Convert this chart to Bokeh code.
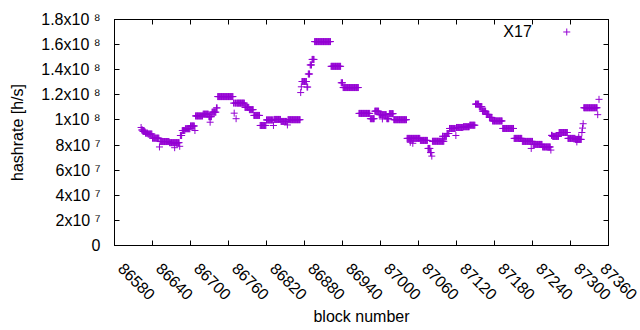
import math
from bokeh.plotting import figure
from bokeh.models import Range1d, FixedTicker, LinearAxis, Label, CustomJSTickFormatter
from bokeh.embed import file_html
from bokeh.resources import INLINE

# ---- data -------------------------------------------------------------
X_START, X_END = 86580, 87360
Y_START, Y_END = 0, 1.8e8
x_ticks = list(range(86580, 87361, 60))
y_ticks = [0, 2e7, 4e7, 6e7, 8e7, 1e8, 1.2e8, 1.4e8, 1.6e8, 1.8e8]
y_tick_base = ["0", "2x10", "4x10", "6x10", "8x10", "1x10", "1.2x10", "1.4x10", "1.6x10", "1.8x10"]
y_tick_exp = ["", "7", "7", "7", "7", "8", "8", "8", "8", "8"]
series_name = "X17"

# runs of blocks sharing (about) the same hashrate: first block, last block, value [1e6 h/s]
run_first = [86622, 86623, 86625, 86629, 86633, 86640, 86651, 86652, 86667, 86675,
             86683, 86684, 86687, 86692, 86700, 86707, 86708, 86720, 86729, 86731,
             86734, 86741, 86743, 86768, 86769, 86770, 86772, 86773, 86786, 86793,
             86800, 86810, 86820, 86831, 86832, 86843, 86853, 86854, 86874, 86875,
             86876, 86884, 86886, 86889, 86892, 86896, 86922, 86938, 86941, 86966,
             86984, 86991, 86998, 87003, 87010, 87014, 87021, 87042, 87047, 87051,
             87063, 87075, 87079, 87081, 87082, 87098, 87101, 87105, 87109, 87119,
             87120, 87131, 87141, 87150, 87156, 87161, 87167, 87172, 87177, 87193,
             87211, 87224, 87238, 87241, 87256, 87269, 87270, 87272, 87282, 87296,
             87308, 87310, 87313, 87318, 87319, 87320, 87321, 87343, 87345]
run_last = [86622, 86624, 86628, 86632, 86639, 86650, 86651, 86666, 86682, 86675,
            86683, 86686, 86691, 86699, 86706, 86707, 86719, 86728, 86733, 86731,
            86740, 86742, 86767, 86768, 86769, 86771, 86772, 86785, 86792, 86799,
            86809, 86819, 86830, 86831, 86842, 86852, 86853, 86873, 86874, 86875,
            86883, 86885, 86888, 86891, 86895, 86921, 86937, 86940, 86965, 86983,
            86990, 86997, 87009, 87003, 87013, 87020, 87041, 87062, 87047, 87051,
            87074, 87078, 87080, 87081, 87100, 87099, 87104, 87108, 87118, 87119,
            87130, 87140, 87149, 87155, 87160, 87166, 87171, 87176, 87192, 87210,
            87223, 87240, 87238, 87255, 87268, 87269, 87271, 87281, 87295, 87307,
            87317, 87310, 87313, 87318, 87319, 87320, 87342, 87343, 87345]
run_value = [94.0, 92.0, 90.8, 89.5, 88.8, 85.5, 78.5, 82.8, 81.9, 77.9,
             79.0, 87.6, 91.6, 93.0, 95.2, 91.6, 103.2, 104.6, 102.6, 98.2,
             106.2, 109.6, 118.6, 113.4, 105.4, 113.4, 101.0, 113.4, 110.0, 108.2,
             103.6, 95.6, 100.0, 95.6, 100.4, 98.8, 96.0, 100.2, 121.8, 126.4,
             130.6, 126.2, 136.6, 143.8, 148.2, 162.4, 142.7, 129.6, 125.8, 105.2,
             101.0, 107.0, 104.2, 100.8, 101.0, 105.0, 100.2, 85.3, 82.2, 81.4,
             83.7, 77.3, 74.0, 71.2, 83.0, 87.0, 86.9, 89.2, 93.2, 87.6,
             94.0, 94.6, 95.8, 112.6, 110.6, 107.0, 104.4, 102.0, 99.2, 93.2,
             85.3, 82.9, 77.3, 80.5, 78.5, 76.0, 87.7, 86.9, 90.0, 85.3,
             84.5, 82.5, 86.5, 90.0, 93.5, 97.0, 109.7, 104.2, 116.4]

blocks, rates = [], []
for a, b, v in zip(run_first, run_last, run_value):
    for blk in range(a, b + 1):
        blocks.append(blk)
        rates.append(v * 1e6)

# ---- style -------------------------------------------------------------
FONT = "Liberation Sans"
COLOR = "#9400D3"
SUP = {"7": "\u2077", "8": "\u2078"}

W = X_END - X_START
H = Y_END - Y_START

p = figure(width=640, height=330,
           x_range=Range1d(X_START, X_END), y_range=Range1d(Y_START, Y_END),
           output_backend="svg", toolbar_location=None,
           min_border_left=114, min_border_right=32, min_border_top=19, min_border_bottom=85)
p.grid.visible = False
p.outline_line_color = "black"
p.outline_line_width = 1
p.background_fill_color = "white"
p.border_fill_color = "white"

p.scatter(blocks, rates, marker="cross", size=7, line_color=COLOR, line_width=1)


def label_formatter(tick_values, tick_texts):
    return CustomJSTickFormatter(
        args=dict(tvals=tick_values, ttexts=tick_texts),
        code="const i = tvals.findIndex(t => Math.abs(t - tick) < 1); return i >= 0 ? ttexts[i] : '';")


# x axis: gnuplot-style rotated labels that start at their tick
x_texts = ["\u2007" + str(t) for t in x_ticks]
xa = p.xaxis[0]
xa.ticker = FixedTicker(ticks=x_ticks)
xa.formatter = label_formatter(x_ticks, x_texts)
xa.major_tick_in = 5
xa.major_tick_out = 0
xa.minor_tick_line_color = None
xa.axis_line_color = "black"
xa.major_label_orientation = -math.pi / 4
xa.major_label_text_font = FONT
xa.major_label_text_font_size = "16px"
xa.major_label_text_color = "black"
xa.major_label_standoff = 14
xa.axis_label = "block number"
xa.axis_label_text_font = FONT
xa.axis_label_text_font_size = "16px"
xa.axis_label_text_font_style = "normal"
xa.axis_label_text_color = "black"
xa.axis_label_standoff = -4

# y axis: mantissa x 10 with superscript exponent
y_texts = [b + (" " + SUP[e] if e else "") for b, e in zip(y_tick_base, y_tick_exp)]
ya = p.yaxis[0]
ya.ticker = FixedTicker(ticks=y_ticks)
ya.formatter = label_formatter(y_ticks, y_texts)
ya.major_tick_in = 5
ya.major_tick_out = 0
ya.minor_tick_line_color = None
ya.axis_line_color = "black"
ya.major_label_text_font = FONT
ya.major_label_text_font_size = "16px"
ya.major_label_text_color = "black"
ya.major_label_standoff = 14
ya.axis_label = "hashrate [h/s]"
ya.axis_label_text_font = FONT
ya.axis_label_text_font_size = "16px"
ya.axis_label_text_font_style = "normal"
ya.axis_label_text_color = "black"
ya.axis_label_standoff = 12

for side, tick_list in (("above", x_ticks), ("right", y_ticks)):
    ax = LinearAxis(ticker=FixedTicker(ticks=tick_list),
                    formatter=CustomJSTickFormatter(code="return '';"),
                    major_label_text_font_size="0px", major_label_standoff=0,
                    major_tick_in=5, major_tick_out=0, minor_tick_line_color=None,
                    axis_line_color="black")
    p.add_layout(ax, side)

# key (gnuplot style: text then sample)
leg_y = Y_START + 0.9447 * H
leg_text_x = X_START + 0.8447 * W
leg_mark_x = X_START + 0.9155 * W
p.add_layout(Label(x=leg_text_x, y=leg_y, text=series_name, text_align="right",
                   text_baseline="middle", text_font=FONT, text_font_size="16px",
                   text_color="black"))
p.scatter([leg_mark_x], [leg_y], marker="cross", size=7, line_color=COLOR, line_width=1)

open("out.html", "w").write(file_html(p, INLINE))
